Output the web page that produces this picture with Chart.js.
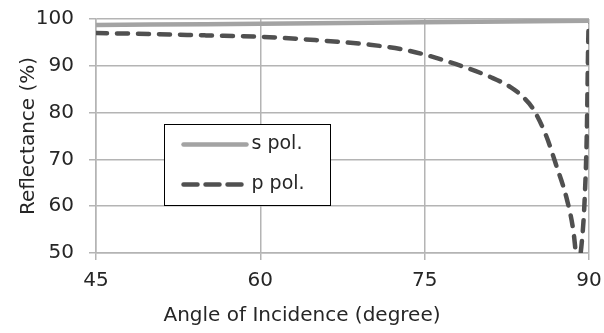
<!DOCTYPE html>
<html>
<head>
<meta charset="utf-8">
<script src="https://cdn.jsdelivr.net/npm/chart.js@4.4.0/dist/chart.umd.min.js"></script>
<style>
  html, body { margin: 0; padding: 0; background: #fff; }
</style>
</head>
<body>
<canvas id="c" width="604" height="333"></canvas>
<script>
// values
const sAngles = [45, 50, 55, 60, 65, 70, 75, 80, 85, 90];
const sValues = [98.7, 98.8, 98.9, 99.0, 99.1, 99.2, 99.3, 99.4, 99.5, 99.6];

const pAngles = [45, 50, 55, 60, 65, 70, 73, 75, 77, 78.8, 81, 82.8, 84, 84.9, 86.1, 87, 88, 88.6, 88.8, 89.0, 89.3, 89.6, 89.8, 89.95, 90];
const pValues = [97.0, 96.8, 96.5, 96.2, 95.5, 94.5, 93.5, 92.4, 91.0, 89.6, 87.6, 85.5, 83.3, 80.8, 75.0, 68.8, 61.3, 54.3, 50.0, 47.5, 51.3, 61.3, 75.6, 97.6, 99.6];

const xTicks = [45, 60, 75, 90];
const yTicks = [50, 60, 70, 80, 90, 100];

const FONT = "'DejaVu Sans', Verdana, sans-serif";
const gridColor = '#b4b4b4';
const textColor = '#262626';

const toPoints = (xs, ys) => xs.map((x, i) => ({ x: x, y: ys[i] }));

// legend drawn inside the plot area, as in the original
const boxLegend = {
  id: 'boxLegend',
  afterDraw(chart) {
    const ctx = chart.ctx;
    const x0 = 164.5, y0 = 124.5, w = 166, h = 81;
    ctx.save();
    ctx.fillStyle = '#fff';
    ctx.fillRect(x0, y0, w, h);
    ctx.strokeStyle = '#000';
    ctx.lineWidth = 1;
    ctx.strokeRect(x0, y0, w, h);
    ctx.font = '19px ' + FONT;
    ctx.textBaseline = 'middle';
    ctx.fillStyle = textColor;
    chart.data.datasets.forEach((ds, i) => {
      const yy = y0 + 20 + i * 40;
      ctx.beginPath();
      ctx.strokeStyle = ds.borderColor;
      ctx.lineWidth = ds.borderWidth;
      ctx.setLineDash(ds.borderDash ? [14, 8] : []);
      ctx.lineCap = ds.borderCapStyle || 'butt';
      ctx.moveTo(x0 + 19, yy);
      ctx.lineTo(x0 + 82, yy);
      ctx.stroke();
      ctx.setLineDash([]);
      ctx.fillText(ds.label, x0 + 87, yy);
    });
    ctx.restore();
  }
};

new Chart(document.getElementById('c'), {
  type: 'line',
  data: {
    datasets: [
      {
        label: 's pol.',
        data: toPoints(sAngles, sValues),
        borderColor: '#a3a3a3',
        borderWidth: 4.5,
        borderCapStyle: 'round',
        pointRadius: 0,
        tension: 0
      },
      {
        label: 'p pol.',
        data: toPoints(pAngles, pValues),
        borderColor: '#505050',
        borderWidth: 4.5,
        borderDash: [11, 10],
        borderCapStyle: 'round',
        pointRadius: 0,
        cubicInterpolationMode: 'monotone'
      }
    ]
  },
  options: {
    responsive: false,
    animation: false,
    layout: { padding: { left: 0, right: 0, top: 19, bottom: 0 } },
    plugins: {
      legend: { display: false },
      tooltip: { enabled: false },
      title: {
        display: true,
        position: 'bottom',
        text: 'Angle of Incidence (degree)',
        color: textColor,
        font: { family: FONT, size: 20, weight: 'normal' },
        padding: { top: 0, bottom: 5 }
      }
    },
    scales: {
      x: {
        type: 'linear',
        min: 45, max: 90,
        afterBuildTicks: s => { s.ticks = xTicks.map(v => ({ value: v })); },
        afterFit: s => { s.height = 51; s.paddingLeft = 0; s.paddingRight = 15; },
        grid: { color: gridColor, lineWidth: 1.5, tickLength: 7 },
        border: { color: gridColor, width: 1.5 },
        ticks: { color: textColor, font: { family: FONT, size: 20 }, padding: 9, maxRotation: 0 }
      },
      y: {
        min: 50, max: 100,
        afterBuildTicks: s => { s.ticks = yTicks.map(v => ({ value: v })); },
        afterFit: s => { s.width = 96; s.paddingTop = 0; s.paddingBottom = 0; },
        grid: { color: gridColor, lineWidth: 1.5, tickLength: 7 },
        border: { color: gridColor, width: 1.5 },
        ticks: { color: textColor, font: { family: FONT, size: 20 }, padding: 15 },
        title: { display: true, text: 'Reflectance (%)', color: textColor, font: { family: FONT, size: 20 }, padding: { top: 17, bottom: 0 } }
      }
    }
  },
  plugins: [boxLegend]
});
</script>
</body>
</html>
